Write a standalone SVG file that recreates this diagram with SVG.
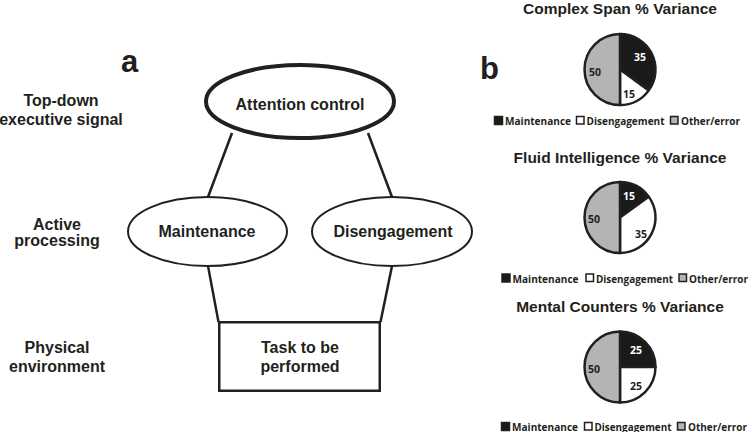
<svg xmlns="http://www.w3.org/2000/svg" width="752" height="432" viewBox="0 0 752 432">
<style>
.lbl{font-family:"Liberation Sans",Arial,sans-serif;font-weight:bold;font-size:16px;fill:#231f20;text-anchor:middle}
.big{font-family:"Liberation Sans",Arial,sans-serif;font-weight:bold;font-size:31px;fill:#231f20}
.ttl{font-family:"Liberation Sans",Arial,sans-serif;font-weight:bold;font-size:15.5px;fill:#231f20;text-anchor:middle}
.num{font-family:"Open Sans","Noto Sans",sans-serif;font-weight:bold;font-size:10.5px;text-anchor:middle}
.leg{font-family:"Open Sans","Noto Sans",sans-serif;font-weight:bold;font-size:10.5px;fill:#231f20}
.leg2{font-family:"Open Sans","Noto Sans",sans-serif;font-weight:bold;font-size:10px;fill:#231f20}
.ln{stroke:#231f20;stroke-width:2.5;fill:none}
.blk{fill:#1a1a1a;stroke:#231f20;stroke-width:2.5;stroke-linejoin:round}
.wht{fill:#ffffff;stroke:#231f20;stroke-width:2.5;stroke-linejoin:round}
.gry{fill:#b4b4b4;stroke:#231f20;stroke-width:2.5;stroke-linejoin:round}
.sq{stroke:#231f20;stroke-width:1.5}
</style>
<rect width="752" height="432" fill="#ffffff"/>
<text class="big" x="121" y="72">a</text>
<text class="big" x="480" y="79">b</text>
<g id="level-labels">
<text class="lbl" x="61" y="106">Top-down</text>
<text class="lbl" x="61" y="124.5">executive signal</text>
<text class="lbl" x="57" y="230">Active</text>
<text class="lbl" x="57" y="246">processing</text>
<text class="lbl" x="57" y="353">Physical</text>
<text class="lbl" x="57" y="371.5">environment</text>
</g>
<g id="connectors">
<line class="ln" x1="232" y1="133" x2="208" y2="197"/>
<line class="ln" x1="368" y1="133" x2="392" y2="197"/>
<line class="ln" x1="208" y1="266" x2="218.5" y2="322"/>
<line class="ln" x1="392" y1="266" x2="380.5" y2="322"/>
</g>
<g id="attention-control">
<ellipse cx="300" cy="101.5" rx="94" ry="36.5" fill="#ffffff" stroke="#231f20" stroke-width="4"/>
<text class="lbl" x="300" y="110">Attention control</text>
</g>
<g id="maintenance">
<ellipse cx="207.5" cy="231.5" rx="79.5" ry="34.5" fill="#ffffff" stroke="#231f20" stroke-width="2"/>
<text class="lbl" x="207" y="237">Maintenance</text>
</g>
<g id="disengagement">
<ellipse cx="392" cy="231.5" rx="80" ry="34.5" fill="#ffffff" stroke="#231f20" stroke-width="2"/>
<text class="lbl" x="393" y="237">Disengagement</text>
</g>
<g id="task">
<rect x="219.25" y="322.25" width="160.5" height="68.5" fill="#ffffff" stroke="#231f20" stroke-width="2.5"/>
<text class="lbl" x="300" y="353">Task to be</text>
<text class="lbl" x="300" y="371.5">performed</text>
</g>
<g id="pie-complex-span">
<text class="ttl" x="620" y="14">Complex Span % Variance</text>
<path class="blk" d="M620,69.5 L620,34 A35.5,35.5 0 0 1 648.72,90.37 Z"/>
<path class="wht" d="M620,69.5 L648.72,90.37 A35.5,35.5 0 0 1 620,105 Z"/>
<path class="gry" d="M620,69.5 L620,105 A35.5,35.5 0 0 1 620,34 Z"/>
<text class="num" x="640" y="61" fill="#ffffff">35</text>
<text class="num" x="629" y="97.5" fill="#231f20">15</text>
<text class="num" x="595" y="76" fill="#231f20">50</text>
<rect class="sq" x="494.5" y="116.5" width="8" height="8" fill="#1a1a1a"/>
<text class="leg" x="505" y="124.5" textLength="66" lengthAdjust="spacingAndGlyphs">Maintenance</text>
<rect class="sq" x="576.5" y="116.5" width="7.5" height="7.5" fill="#ffffff"/>
<text class="leg" x="586.5" y="124.5" textLength="78" lengthAdjust="spacingAndGlyphs">Disengagement</text>
<rect class="sq" x="670.5" y="116.5" width="7.5" height="7.5" fill="#b4b4b4"/>
<text class="leg2" x="681" y="124.5" textLength="59" lengthAdjust="spacingAndGlyphs">Other/error</text>
</g>
<g id="pie-fluid-intelligence">
<text class="ttl" x="620" y="162.5">Fluid Intelligence % Variance</text>
<path class="blk" d="M620,217.5 L620,182 A35.5,35.5 0 0 1 648.72,196.63 Z"/>
<path class="wht" d="M620,217.5 L648.72,196.63 A35.5,35.5 0 0 1 620,253 Z"/>
<path class="gry" d="M620,217.5 L620,253 A35.5,35.5 0 0 1 620,182 Z"/>
<text class="num" x="629" y="199.5" fill="#ffffff">15</text>
<text class="num" x="641" y="238" fill="#231f20">35</text>
<text class="num" x="594" y="223" fill="#231f20">50</text>
<rect class="sq" x="502" y="274" width="8" height="8" fill="#1a1a1a"/>
<text class="leg" x="512.5" y="282.5" textLength="66" lengthAdjust="spacingAndGlyphs">Maintenance</text>
<rect class="sq" x="586" y="274" width="7.5" height="7.5" fill="#ffffff"/>
<text class="leg" x="596" y="282.5" textLength="77" lengthAdjust="spacingAndGlyphs">Disengagement</text>
<rect class="sq" x="679" y="274" width="7.5" height="7.5" fill="#b4b4b4"/>
<text class="leg2" x="689" y="282.5" textLength="59" lengthAdjust="spacingAndGlyphs">Other/error</text>
</g>
<g id="pie-mental-counters">
<text class="ttl" x="620" y="311.5">Mental Counters % Variance</text>
<path class="blk" d="M620,367 L620,331.5 A35.5,35.5 0 0 1 655.5,367 Z"/>
<path class="wht" d="M620,367 L655.5,367 A35.5,35.5 0 0 1 620,402.5 Z"/>
<path class="gry" d="M620,367 L620,402.5 A35.5,35.5 0 0 1 620,331.5 Z"/>
<text class="num" x="636" y="354" fill="#ffffff">25</text>
<text class="num" x="636" y="389.5" fill="#231f20">25</text>
<text class="num" x="594" y="373" fill="#231f20">50</text>
<rect class="sq" x="501.5" y="422.5" width="8" height="8" fill="#1a1a1a"/>
<text class="leg" x="512" y="430.5" textLength="66" lengthAdjust="spacingAndGlyphs">Maintenance</text>
<rect class="sq" x="584.5" y="422.5" width="7.5" height="7.5" fill="#ffffff"/>
<text class="leg" x="594.5" y="430.5" textLength="77" lengthAdjust="spacingAndGlyphs">Disengagement</text>
<rect class="sq" x="677.5" y="422.5" width="7.5" height="7.5" fill="#b4b4b4"/>
<text class="leg2" x="688" y="430.5" textLength="59" lengthAdjust="spacingAndGlyphs">Other/error</text>
</g>
</svg>
